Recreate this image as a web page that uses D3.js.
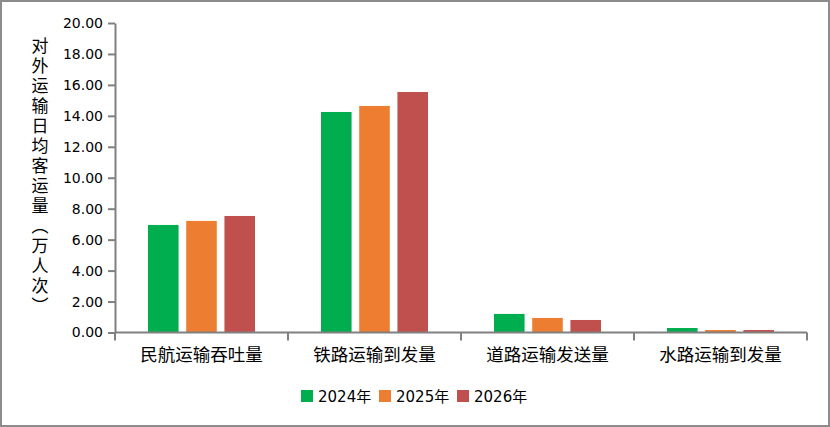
<!DOCTYPE html>
<html><head><meta charset="utf-8">
<script src="https://cdn.jsdelivr.net/npm/d3@7"></script>
<style>body{margin:0;background:#fff}svg{display:block}</style>
</head><body>
<script>
const categories = ["民航运输吞吐量","铁路运输到发量","道路运输发送量","水路运输到发量"];
const seriesNames = ["2024年","2025年","2026年"];
const series2024 = [6.95, 14.25, 1.20, 0.29];
const series2025 = [7.21, 14.64, 0.94, 0.16];
const series2026 = [7.53, 15.54, 0.81, 0.16];
const colors = ["#00ad4f","#ed7d31","#c0504d"];
const yTicks = [0,2,4,6,8,10,12,14,16,18,20];

const W=830,H=427;
const svg=d3.select("body").append("svg").attr("width",W).attr("height",H);
svg.append("rect").attr("x",1).attr("y",1).attr("width",W-2).attr("height",H-2)
  .attr("fill","#fff").attr("stroke","#8c8c8c").attr("stroke-width",2);

const x0=d3.scaleBand().domain(categories).range([115,807]);
const x1=d3.scaleBand().domain(seriesNames).range([33,x0.bandwidth()-33]).paddingInner(0.2);
const y=d3.scaleLinear().domain([0,20]).range([332.5,23]);

const data=[series2024,series2025,series2026];
const latin='"DejaVu Sans", sans-serif';
const cjk='"Noto Sans CJK SC", sans-serif';

const g=svg.append("g");
categories.forEach((c,i)=>{
  seriesNames.forEach((s,j)=>{
    const v=data[j][i];
    g.append("rect").attr("x",x0(c)+x1(s)).attr("y",y(v))
     .attr("width",x1.bandwidth()).attr("height",y(0)-y(v)).attr("fill",colors[j]);
  });
});

// y axis
const ya=svg.append("g").attr("transform","translate(115,0)")
  .call(d3.axisLeft(y).tickValues(yTicks).tickFormat(d3.format(".2f")).tickSize(7).tickSizeOuter(0));
ya.select(".domain").attr("stroke","#808080").attr("stroke-width",2);
ya.selectAll(".tick line").attr("stroke","#808080").attr("stroke-width",2);
ya.selectAll(".tick text").attr("font-family",latin).attr("font-size",14).attr("fill","#000").attr("x",-12);

// x axis
const xa=svg.append("g").attr("transform","translate(0,332.5)");
xa.append("line").attr("x1",115).attr("x2",807).attr("stroke","#808080").attr("stroke-width",2);
const bounds=[...categories.map(c=>x0(c)), x0.range()[1]];
bounds.forEach(b=>{
  xa.append("line").attr("x1",b).attr("x2",b).attr("y1",0).attr("y2",8).attr("stroke","#808080").attr("stroke-width",2);
});
categories.forEach(c=>{
  xa.append("text").attr("x",x0(c)+x0.bandwidth()/2).attr("y",28.5).attr("text-anchor","middle")
    .attr("font-family",cjk).attr("font-size",17.5).attr("fill","#000").text(c);
});

// y label
svg.append("text").attr("x",40).attr("y",37)
  .style("writing-mode","vertical-rl")
  .attr("font-family",cjk).attr("font-size",17).attr("fill","#000")
  .attr("letter-spacing",3)
  .text("对外运输日均客运量（万人次）");

// legend
const leg=svg.append("g").attr("transform","translate(301,397)");
let lx=0;
seriesNames.forEach((s,j)=>{
  leg.append("rect").attr("x",lx).attr("y",-7).attr("width",12).attr("height",12).attr("fill",colors[j]);
  const t=leg.append("text").attr("x",lx+17).attr("y",5).attr("font-family",latin).attr("font-size",15).attr("fill","#000");
  t.append("tspan").text(s.slice(0,4));
  t.append("tspan").attr("font-family",cjk).text("年");
  lx+=78;
});
</script>
</body></html>
